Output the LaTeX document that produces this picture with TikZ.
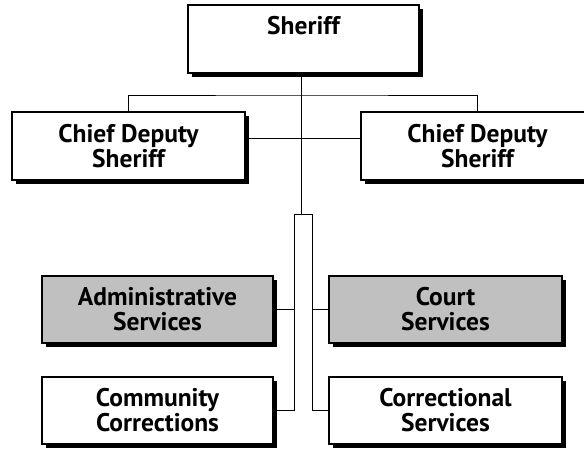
\documentclass[tikz,border=0pt]{standalone}
\usepackage{fontspec}
\setmainfont{PT Sans}
\usetikzlibrary{shadows}
\tikzset{
  unit/.style={draw=black, line width=1.1pt, fill=white, font=\bfseries\fontsize{25.5}{25}\selectfont,
    align=center, inner sep=0pt,
    drop shadow={shadow xshift=3.5pt, shadow yshift=-3.5pt, fill=black, opacity=1}},
  link/.style={draw=black, line width=1pt}
}
\definecolor{boxgray}{RGB}{192,192,192}
\begin{document}
\begin{tikzpicture}[x=1pt,y=-1pt]
\useasboundingbox (0,0) rectangle (584,448);
\clip (0,0) rectangle (584,448);
\node[unit, minimum width=231pt, minimum height=68pt] (sheriff) at (303.5,39) {Sheriff\\[2pt]\phantom{S}};
\node[unit, minimum width=233pt, minimum height=68pt] (cdl) at (128.5,146) {Chief Deputy\\Sheriff};
\node[unit, minimum width=233pt, minimum height=68pt] (cdr) at (477.5,146) {Chief Deputy\\Sheriff};
\node[unit, fill=boxgray, minimum width=231pt, minimum height=67pt] (adm) at (157.5,309.5) {Administrative\\Services};
\node[unit, fill=boxgray, minimum width=233pt, minimum height=67pt] (crt) at (445.5,309.5) {Court\\Services};
\node[unit, minimum width=231pt, minimum height=67pt] (com) at (157.5,410.5) {Community\\Corrections};
\node[unit, minimum width=233pt, minimum height=67pt] (cor) at (445.5,410.5) {Correctional\\Services};
\coordinate (j1) at (301,95);
\coordinate (t) at (301,214);
\coordinate (bl) at (294,214);
\coordinate (br) at (312,214);
\draw[link] (sheriff.south -| j1) -- (t);
\draw[link] (cdl.north) |- (j1) -| (cdr.north);
\draw[link] ([yshift=8pt]cdl.east) -- ([yshift=8pt]cdr.west);
\draw[link] (com.east) -- (com.east -| bl) -- (bl) -- (br) -- (br |- cor.west) -- (cor.west);
\draw[link] (adm.east) -- (adm.east -| bl);
\draw[link] (crt.west) -- (crt.west -| br);
\end{tikzpicture}
\end{document}
